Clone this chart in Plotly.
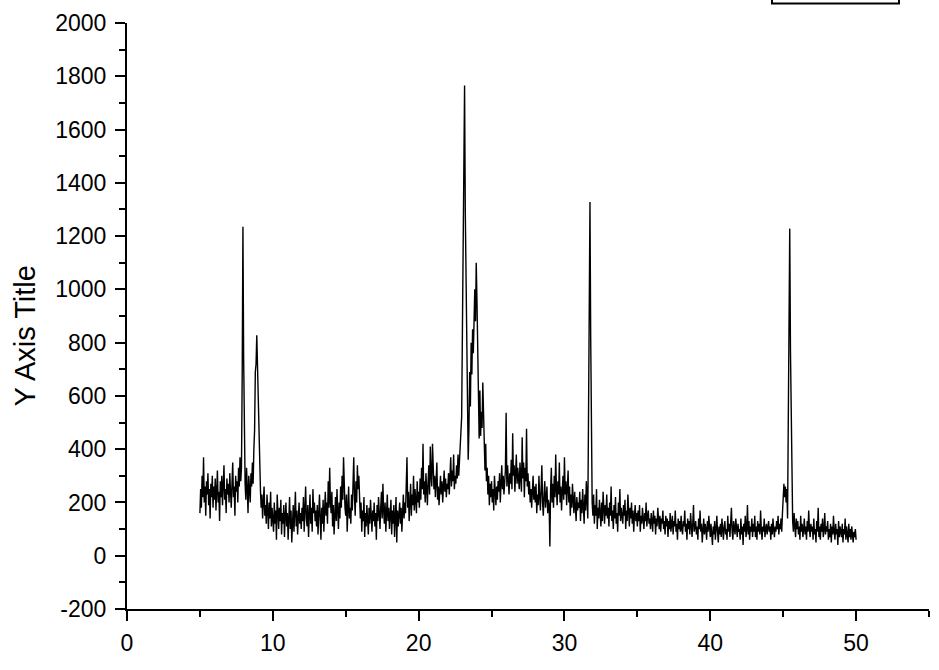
import numpy as np
import plotly.graph_objects as go

# Diffraction-like scan: 2-theta from 5.00 to 50.00 in 0.05 steps
two_theta_start = 5.0
two_theta_step = 0.05

intensity = [
    # 5.00 - 5.95
    160, 250, 180, 300, 220, 370, 200, 260, 150, 280, 230, 310, 190, 250, 140, 270, 220, 300, 180, 260,
    # 6.00 - 6.95
    210, 290, 170, 250, 320, 200, 240, 130, 280, 220, 300, 190, 260, 340, 210, 250, 160, 290, 230, 270,
    # 7.00 - 7.95
    200, 310, 240, 180, 270, 350, 220, 260, 150, 300, 240, 280, 200, 330, 260, 370, 280, 330, 680, 1235,
    # 8.00 - 8.95
    740, 420, 270, 210, 330, 250, 160, 300, 240, 200, 310, 260, 350, 270, 400, 470, 690, 720, 828, 700,
    # 9.00 - 9.95
    560, 430, 300, 250, 180, 230, 140, 210, 260, 150, 190, 120, 230, 170, 100, 200, 140, 240, 110, 180,
    # 10.00 - 10.95
    150, 90, 200, 120, 170, 60, 230, 140, 100, 180, 130, 210, 80, 160, 120, 190, 70, 150, 200, 110,
    # 11.00 - 11.95
    160, 60, 140, 220, 100, 170, 50, 130, 190, 90, 150, 240, 110, 170, 80, 140, 200, 120, 160, 100,
    # 12.00 - 12.95
    180, 130, 220, 90, 170, 260, 140, 110, 190, 70, 150, 230, 120, 180, 90, 250, 160, 200, 130, 170,
    # 13.00 - 13.95
    110, 190, 80, 160, 230, 140, 60, 180, 120, 210, 90, 170, 240, 150, 200, 120, 280, 180, 330, 200,
    # 14.00 - 14.95
    160, 240, 110, 190, 80, 150, 220, 130, 250, 170, 100, 200, 140, 260, 180, 300, 210, 370, 240, 180,
    # 15.00 - 15.95
    150, 230, 90, 200, 260, 140, 180, 120, 230, 170, 260, 370, 220, 150, 280, 200, 340, 250, 300, 180,
    # 16.00 - 16.95
    140, 200, 90, 170, 130, 220, 70, 160, 110, 190, 140, 80, 180, 120, 210, 150, 90, 170, 130, 200,
    # 17.00 - 17.95
    110, 160, 60, 190, 130, 220, 150, 100, 180, 240, 140, 270, 170, 120, 200, 90, 160, 230, 130, 180,
    # 18.00 - 18.95
    100, 150, 210, 80, 170, 120, 190, 70, 140, 220, 50, 170, 110, 150, 200, 120, 180, 90, 160, 230,
    # 19.00 - 19.95
    140, 200, 160, 250, 370, 180, 240, 130, 210, 270, 150, 230, 190, 300, 170, 250, 210, 160, 280, 200,
    # 20.00 - 20.95
    240, 180, 290, 210, 330, 250, 420, 230, 280, 200, 310, 250, 190, 280, 340, 230, 410, 300, 260, 420,
    # 21.00 - 21.95
    330, 250, 300, 220, 280, 350, 210, 260, 190, 240, 300, 230, 280, 200, 260, 320, 240, 290, 220, 270,
    # 22.00 - 22.95
    250, 310, 230, 290, 370, 260, 320, 280, 380, 250, 300, 270, 340, 290, 380, 300, 360, 400, 450, 520,
    # 23.00 - 23.95
    830, 1150, 1500, 1765, 1290, 1100, 820, 600, 360, 480, 690, 560, 800, 680, 850, 760, 900, 1000, 880, 1100,
    # 24.00 - 24.95
    960, 720, 560, 440, 620, 450, 540, 480, 650, 560, 400, 320, 420, 280, 330, 230, 300, 190, 270, 220,
    # 25.00 - 25.95
    280, 200, 250, 170, 300, 230, 190, 260, 210, 280, 240, 310, 200, 270, 340, 250, 300, 230, 280, 320,
    # 26.00 - 26.95
    537, 260, 340, 280, 230, 310, 270, 360, 250, 460, 300, 340, 240, 310, 380, 270, 330, 290, 250, 350,
    # 27.00 - 27.95
    300, 240, 445, 290, 350, 220, 330, 280, 477, 260, 310, 230, 280, 200, 250, 180, 240, 300, 210, 260,
    # 28.00 - 28.95
    200, 270, 160, 230, 190, 300, 220, 170, 250, 340, 200, 150, 230, 280, 180, 220, 260, 160, 210, 190,
    # 29.00 - 29.95
    35, 250, 330, 200, 270, 180, 300, 220, 380, 250, 190, 280, 230, 350, 200, 260, 170, 240, 300, 210,
    # 30.00 - 30.95
    370, 230, 280, 190, 250, 320, 200, 260, 150, 230, 180, 270, 210, 160, 240, 190, 130, 220, 170, 200,
    # 31.00 - 31.95
    180, 240, 130, 210, 160, 250, 190, 120, 230, 170, 280, 200, 140, 520, 1000, 1328, 820, 330, 200, 150,
    # 32.00 - 32.95
    230, 120, 190, 150, 250, 100, 180, 140, 210, 160, 110, 200, 130, 240, 170, 120, 190, 150, 230, 140,
    # 33.00 - 33.95
    180, 110, 200, 150, 260, 130, 170, 100, 190, 140, 220, 120, 160, 90, 200, 150, 250, 130, 180, 160,
    # 34.00 - 34.95
    120, 190, 150, 210, 100, 170, 130, 230, 160, 110, 180, 140, 200, 120, 170, 90, 150, 190, 130, 160,
    # 35.00 - 35.95
    110, 170, 130, 190, 90, 150, 120, 180, 140, 100, 160, 130, 200, 110, 150, 170, 120, 140, 100, 160,
    # 36.00 - 36.95
    130, 90, 170, 120, 150, 80, 140, 110, 180, 130, 100, 150, 90, 140, 120, 170, 100, 130, 80, 150,
    # 37.00 - 37.95
    110, 140, 70, 130, 100, 160, 90, 120, 150, 80, 130, 110, 170, 90, 120, 60, 140, 100, 130, 90,
    # 38.00 - 38.95
    150, 100, 80, 130, 110, 170, 90, 120, 60, 140, 100, 130, 80, 160, 110, 70, 120, 190, 90, 110,
    # 39.00 - 39.95
    130, 80, 110, 60, 140, 100, 170, 90, 120, 50, 110, 140, 80, 120, 100, 60, 130, 90, 150, 110,
    # 40.00 - 40.95
    70, 120, 90, 40, 110, 80, 130, 60, 100, 150, 90, 50, 110, 80, 120, 70, 140, 90, 60, 110,
    # 41.00 - 41.95
    130, 80, 100, 60, 150, 90, 120, 70, 110, 180, 90, 60, 130, 100, 80, 140, 110, 70, 120, 90,
    # 42.00 - 42.95
    100, 60, 140, 80, 110, 40, 120, 90, 150, 70, 100, 190, 80, 130, 60, 110, 90, 140, 70, 120,
    # 43.00 - 43.95
    90, 150, 70, 110, 60, 130, 90, 120, 80, 170, 100, 60, 110, 90, 140, 70, 100, 120, 80, 110,
    # 44.00 - 44.95
    130, 90, 110, 60, 120, 80, 140, 100, 70, 110, 90, 130, 100, 150, 80, 120, 100, 140, 90, 160,
    # 45.00 - 45.95
    240, 270, 220, 260, 200, 250, 140, 611, 1150, 1228, 770, 500, 190, 130, 90, 160, 110, 70, 140, 100,
    # 46.00 - 46.95
    130, 80, 110, 60, 150, 90, 120, 70, 100, 140, 80, 110, 60, 130, 90, 170, 100, 70, 120, 90,
    # 47.00 - 47.95
    110, 60, 140, 80, 100, 50, 130, 90, 180, 70, 110, 60, 120, 90, 140, 70, 100, 160, 80, 110,
    # 48.00 - 48.95
    90, 130, 60, 100, 70, 120, 50, 110, 80, 150, 90, 60, 120, 80, 100, 40, 130, 70, 110, 90,
    # 49.00 - 49.95
    70, 120, 50, 100, 80, 140, 60, 110, 90, 50, 120, 70, 100, 60, 110, 80, 50, 90, 70, 100,
    # 50.00
    60,
]

two_theta = two_theta_start + two_theta_step * np.arange(len(intensity))

x_ticks = [0, 10, 20, 30, 40, 50]
y_ticks = [-200, 0, 200, 400, 600, 800, 1000, 1200, 1400, 1600, 1800, 2000]

FONT = "Liberation Sans, Arial, sans-serif"

fig = go.Figure()
fig.add_trace(go.Scatter(
    x=two_theta, y=intensity, mode="lines",
    line=dict(color="black", width=1.4),
    showlegend=False, hoverinfo="skip",
))

axis_common = dict(
    showline=True, linecolor="black", linewidth=2,
    showgrid=False, zeroline=False,
    ticks="outside", ticklen=10, tickwidth=2, tickcolor="black",
    tickfont=dict(family=FONT, size=23, color="black"),
    mirror=False,
)

fig.update_xaxes(
    range=[0, 55], tickvals=x_ticks, ticktext=[str(v) for v in x_ticks],
    minor=dict(ticks="outside", ticklen=6, tickwidth=2, tickcolor="black", dtick=5, showgrid=False),
    ticklabelstandoff=2,
    **axis_common,
)
fig.update_yaxes(
    range=[-200, 2000], tickvals=y_ticks, ticktext=[str(v) for v in y_ticks],
    minor=dict(ticks="outside", ticklen=6, tickwidth=2, tickcolor="black", dtick=100, showgrid=False),
    ticklabelstandoff=4,
    **axis_common,
)

# Y axis title placed as rotated text
fig.add_annotation(
    text="Y Axis Title", xref="paper", yref="paper",
    x=(25 - 127) / 802, y=(609 - 335) / 589,
    xanchor="center", yanchor="middle", textangle=-90,
    showarrow=False, font=dict(family=FONT, size=29, color="black"),
)

# Partially visible legend frame at the top edge
fig.add_shape(
    type="rect", xref="paper", yref="paper",
    x0=(772 - 127) / 802, x1=(899 - 127) / 802,
    y0=(609 - 0.5) / 589, y1=1.2,
    line=dict(color="black", width=2), fillcolor="rgba(0,0,0,0)",
)

fig.update_layout(
    width=939, height=670,
    margin=dict(l=127, r=10, t=20, b=61),
    plot_bgcolor="white", paper_bgcolor="white",
    font=dict(family=FONT, color="black"),
)

fig.write_html(
    "out.html",
    config={"displayModeBar": False, "staticPlot": True},
    post_script="document.body.style.margin='0';document.body.style.overflow='hidden';",
)
